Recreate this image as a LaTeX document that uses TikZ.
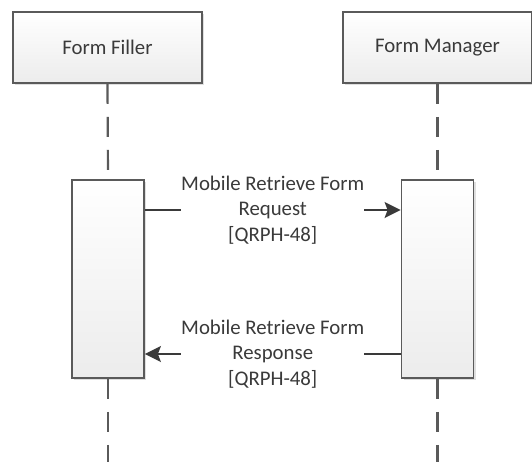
\documentclass[tikz,border=0pt]{standalone}
\usepackage{fontspec}
\setmainfont{Carlito}
\usetikzlibrary{arrows.meta,shadows}
\definecolor{edgegray}{HTML}{5A5A5A}
\definecolor{textgray}{HTML}{3A3A3A}
\definecolor{fillgray}{HTML}{ECECEC}
\tikzset{
  actor/.style={draw=edgegray, line width=1.8pt, top color=white, bottom color=fillgray,
    minimum width=189pt, minimum height=71pt, inner sep=0pt, text=textgray,
    drop shadow={shadow xshift=2pt, shadow yshift=-2pt, opacity=.25}},
  activation/.style={draw=edgegray, line width=1.8pt, top color=white, bottom color=fillgray,
    minimum width=72pt, minimum height=198pt, inner sep=0pt,
    drop shadow={shadow xshift=2pt, shadow yshift=-2pt, opacity=.25}},
  lifeline/.style={draw=edgegray, line width=2.2pt, dash pattern=on 20pt off 13pt},
  msg/.style={draw=textgray, line width=1.6pt},
  msglabel/.style={fill=white, align=center, text=textgray, inner xsep=0pt, inner ysep=1pt,
    font=\fontsize{20.8pt}{25.5pt}\selectfont}
}
\begin{document}
\begin{tikzpicture}[x=1pt, y=-1pt, font=\fontsize{20.8pt}{25pt}\selectfont]
  \clip (0, 0) rectangle (532, 461) ;
  \fill[white] (0, 0) rectangle (532, 461) ;
  \node[actor] (filler) at (107.5, 47.5) {Form Filler} ;
  \node[actor] (manager) at (437.5, 47.5) {Form Manager} ;
  \node[activation] (filleract) at (108, 279) {} ;
  \node[activation] (manageract) at (437.5, 279) {} ;
  \coordinate (fillerend) at (108, 470) ;
  \coordinate (managerend) at (437.5, 470) ;
  \draw[lifeline] (filler.south) -- (filleract.north) ;
  \draw[lifeline] (manager.south) -- (manageract.north) ;
  \draw[lifeline] (filleract.south) -- (fillerend) ;
  \draw[lifeline] (manageract.south) -- (managerend) ;
  \coordinate (req) at (0, 210) ;
  \coordinate (resp) at (0, 354) ;
  \draw[msg, -{Stealth[length=16pt, width=16pt, inset=3pt]}] (filleract.east |- req) --
    node[msglabel] {Mobile Retrieve Form\\Request\\{[}QRPH-48{]}} (manageract.west |- req) ;
  \draw[msg, -{Stealth[length=16pt, width=16pt, inset=3pt]}] (manageract.west |- resp) --
    node[msglabel] {Mobile Retrieve Form\\Response\\{[}QRPH-48{]}} (filleract.east |- resp) ;
\end{tikzpicture}
\end{document}
